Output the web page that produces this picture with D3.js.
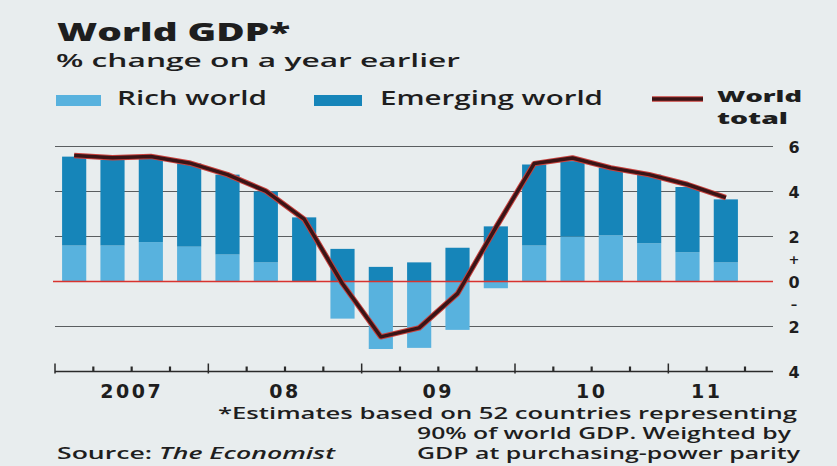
<!DOCTYPE html>
<html>
<head>
<meta charset="utf-8">
<script src="https://cdn.jsdelivr.net/npm/d3@7"></script>
<style>
    html, body { margin: 0; padding: 0; background: #e8edee; }
    svg { display: block; font-family: 'Open Sans', 'DejaVu Sans', sans-serif; }
    .lbl { fill: #1e1e1e; }
    .num { font-family: 'DejaVu Sans', sans-serif; font-weight: bold; }
</style>
</head>
<body>
<svg id="chart" width="837" height="466"></svg>
<script>
// Quarterly data, 2007 Q1 to 2011 Q2.
var quarters = ['07Q1', '07Q2', '07Q3', '07Q4', '08Q1', '08Q2', '08Q3', '08Q4', '09Q1', '09Q2', '09Q3', '09Q4',
    '10Q1', '10Q2', '10Q3', '10Q4', '11Q1', '11Q2'];
var richWorld = [1.6, 1.6, 1.75, 1.55, 1.2, 0.85, 0, -1.65, -3.0, -2.95, -2.15, -0.3,
    1.6, 2.0, 2.05, 1.7, 1.3, 0.85];
var emergingWorld = [3.95, 3.8, 3.7, 3.7, 3.55, 3.15, 2.85, 1.45, 0.65, 0.85, 1.5, 2.45,
    3.6, 3.35, 3.0, 3.05, 2.9, 2.8];
var worldTotal = [5.6, 5.5, 5.56, 5.27, 4.75, 4.02, 2.77, -0.1, -2.46, -2.06, -0.54, 2.4,
    5.24, 5.49, 5.05, 4.75, 4.31, 3.73];
var years = ['2007', '08', '09', '10', '11'];
var yTicks = [6, 4, 2, 0, -2, -4];

var svg = d3.select( '#chart' ),
    colours = { rich: '#58b2de', emerging: '#1685b9', grid: '#5a5e60', zero: '#d8332e' },
    plot = { left: 55, right: 745, axisEnd: 773, top: 146.5, bottom: 371.5 };

var x = d3.scaleBand()
    .domain( quarters )
    .range( [plot.left, plot.right] )
    .paddingInner( 0.37 )
    .paddingOuter( 0.185 );

// Quarter boundaries, used for the tick marks.
var q = d3.scaleLinear()
    .domain( [0, quarters.length] )
    .range( [plot.left, plot.right] );

var y = d3.scaleLinear()
    .domain( [-4, 6] )
    .range( [plot.bottom, plot.top] );

// Gridlines.
svg.append( 'g' )
    .selectAll( 'line' )
    .data( yTicks.filter( v => v !== 0 && v !== -4 ) )
    .join( 'line' )
    .attr( 'x1', plot.left )
    .attr( 'x2', plot.axisEnd )
    .attr( 'y1', d => y( d ) )
    .attr( 'y2', d => y( d ) )
    .attr( 'stroke', colours.grid )
    .attr( 'stroke-width', 1 );

// Bars: rich world from zero, emerging world stacked on the positive side.
var bars = svg.append( 'g' );
bars.selectAll( 'rect.rich' )
    .data( quarters )
    .join( 'rect' )
    .attr( 'class', 'rich' )
    .attr( 'x', d => x( d ) )
    .attr( 'width', x.bandwidth() )
    .attr( 'y', ( d, i ) => y( Math.max( 0, richWorld[i] ) ) )
    .attr( 'height', ( d, i ) => Math.abs( y( richWorld[i] ) - y( 0 ) ) )
    .attr( 'fill', colours.rich );

bars.selectAll( 'rect.emerging' )
    .data( quarters )
    .join( 'rect' )
    .attr( 'class', 'emerging' )
    .attr( 'x', d => x( d ) )
    .attr( 'width', x.bandwidth() )
    .attr( 'y', ( d, i ) => y( Math.max( 0, richWorld[i] ) + emergingWorld[i] ) )
    .attr( 'height', ( d, i ) => y( 0 ) - y( emergingWorld[i] ) )
    .attr( 'fill', colours.emerging );

// Zero line.
svg.append( 'line' )
    .attr( 'x1', plot.left - 2 )
    .attr( 'x2', plot.axisEnd )
    .attr( 'y1', y( 0 ) )
    .attr( 'y2', y( 0 ) )
    .attr( 'stroke', colours.zero )
    .attr( 'stroke-width', 1.5 );

// World total line: red edge under a dark core.
var line = d3.line()
    .x( ( d, i ) => x( quarters[i] ) + x.bandwidth() / 2 )
    .y( d => y( d ) );

svg.append( 'path' )
    .datum( worldTotal )
    .attr( 'd', line )
    .attr( 'fill', 'none' )
    .attr( 'stroke', '#c8403c' )
    .attr( 'stroke-width', 5.5 )
    .attr( 'stroke-linejoin', 'round' );
svg.append( 'path' )
    .datum( worldTotal )
    .attr( 'd', line )
    .attr( 'fill', 'none' )
    .attr( 'stroke', '#3a1416' )
    .attr( 'stroke-width', 3.5 )
    .attr( 'stroke-linejoin', 'round' );

// Bottom axis with quarter ticks; year ticks are taller.
var axisG = svg.append( 'g' )
    .attr( 'transform', 'translate(0,' + y( -4 ) + ')' );
axisG.append( 'line' )
    .attr( 'x1', plot.left )
    .attr( 'x2', plot.axisEnd )
    .attr( 'stroke', '#2a2a2a' )
    .attr( 'stroke-width', 1.3 );
axisG.selectAll( 'line.tick' )
    .data( d3.range( quarters.length + 1 ) )
    .join( 'line' )
    .attr( 'class', 'tick' )
    .attr( 'x1', d => q( d ) )
    .attr( 'x2', d => q( d ) )
    .attr( 'y1', d => d % 4 === 0 ? -8 : -5 )
    .attr( 'y2', d => d % 4 === 0 ? 2 : 0 )
    .attr( 'stroke', '#2a2a2a' )
    .attr( 'stroke-width', d => d % 4 === 0 ? 1.5 : 2.2 );

// Year labels, centred on each year's quarters.
svg.append( 'g' )
    .selectAll( 'text' )
    .data( years )
    .join( 'text' )
    .attr( 'class', 'lbl num' )
    .attr( 'x', ( d, i ) => ( q( i * 4 ) + q( Math.min( i * 4 + 4, quarters.length ) ) ) / 2 )
    .attr( 'y', 398 )
    .attr( 'text-anchor', 'middle' )
    .attr( 'font-size', 19 )
    .attr( 'letter-spacing', 2.5 )
    .text( d => d );

// Right-hand value labels.
var yLab = svg.append( 'g' ).attr( 'font-size', 16 );
yLab.selectAll( 'text' )
    .data( yTicks )
    .join( 'text' )
    .attr( 'class', 'lbl num' )
    .attr( 'x', 794 )
    .attr( 'y', d => y( d ) + 6 )
    .attr( 'text-anchor', 'middle' )
    .text( d => Math.abs( d ) );
yLab.append( 'text' ).attr( 'class', 'lbl num' ).attr( 'x', 794 ).attr( 'y', y( 1 ) + 5 )
    .attr( 'font-size', 13 ).attr( 'text-anchor', 'middle' ).text( '+' );
yLab.append( 'text' ).attr( 'class', 'lbl num' ).attr( 'x', 794 ).attr( 'y', y( -1 ) + 5 )
    .attr( 'font-size', 13 ).attr( 'text-anchor', 'middle' ).text( '–' );

// Headings.
var addText = function ( txt, xPos, yPos, size, weight, len, anchor ) {
    return svg.append( 'text' )
        .attr( 'class', 'lbl' )
        .attr( 'x', xPos )
        .attr( 'y', yPos )
        .attr( 'font-size', size )
        .attr( 'font-weight', weight )
        .attr( 'text-anchor', anchor || 'start' )
        .attr( 'textLength', len )
        .attr( 'lengthAdjust', 'spacingAndGlyphs' )
        .text( txt );
};
addText( 'World GDP*', 57, 41, 25, 800, 233 ).attr( 'fill', '#151515' );
addText( '% change on a year earlier', 56, 67, 18, 600, 404 );

// Legend.
svg.append( 'rect' ).attr( 'x', 56 ).attr( 'y', 95 ).attr( 'width', 45 ).attr( 'height', 11 ).attr( 'fill', colours.rich );
addText( 'Rich world', 117, 105, 19, 600, 150 );
svg.append( 'rect' ).attr( 'x', 314 ).attr( 'y', 95 ).attr( 'width', 48 ).attr( 'height', 11 ).attr( 'fill', colours.emerging );
addText( 'Emerging world', 380, 105, 19, 600, 223 );
svg.append( 'line' ).attr( 'x1', 652 ).attr( 'x2', 703 ).attr( 'y1', 99 ).attr( 'y2', 99 )
    .attr( 'stroke', '#c8403c' ).attr( 'stroke-width', 5.5 );
svg.append( 'line' ).attr( 'x1', 652 ).attr( 'x2', 703 ).attr( 'y1', 99 ).attr( 'y2', 99 )
    .attr( 'stroke', '#3a1416' ).attr( 'stroke-width', 3.5 );
addText( 'World', 717, 102, 15, 800, 85 );
addText( 'total', 717, 124, 15, 800, 71 );

// Footnote and source.
addText( '*Estimates based on 52 countries representing', 797, 419, 15.5, 600, 579, 'end' );
addText( '90% of world GDP. Weighted by', 791, 439, 15.5, 600, 374, 'end' );
addText( 'GDP at purchasing-power parity', 800, 459, 15.5, 600, 383, 'end' );
var src = svg.append( 'text' )
    .attr( 'class', 'lbl' )
    .attr( 'x', 57 )
    .attr( 'y', 459 )
    .attr( 'font-size', 15.5 )
    .attr( 'font-weight', 600 )
    .attr( 'textLength', 278 )
    .attr( 'lengthAdjust', 'spacingAndGlyphs' );
src.append( 'tspan' ).text( 'Source: ' );
src.append( 'tspan' ).attr( 'font-style', 'italic' ).text( 'The Economist' );
</script>
</body>
</html>
